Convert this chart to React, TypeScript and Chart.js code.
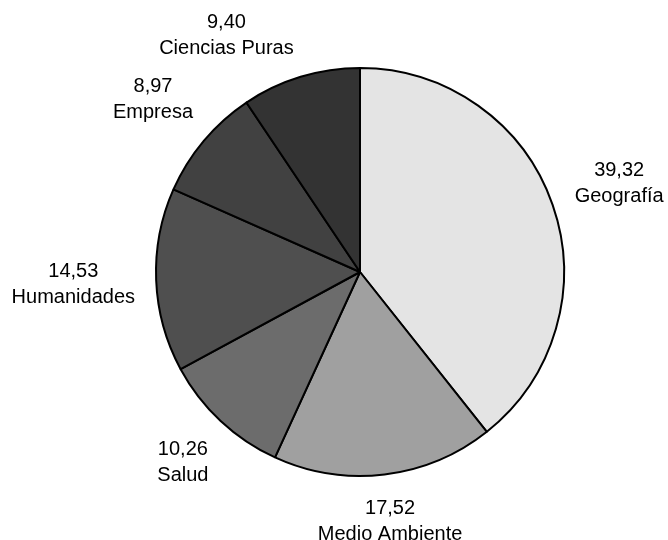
import React, { useEffect, useRef } from "react";
import { Chart, registerables } from "chart.js";

Chart.register(...registerables);

const categories = ["Geografía", "Medio Ambiente", "Salud", "Humanidades", "Empresa", "Ciencias Puras"];
const values = [39.32, 17.52, 10.26, 14.53, 8.97, 9.4];
const valueLabels = ["39,32", "17,52", "10,26", "14,53", "8,97", "9,40"];
const colors = ["#e4e4e4", "#a0a0a0", "#6c6c6c", "#4f4f4f", "#414141", "#333333"];

const FONT = '20px "Liberation Sans", Arial, sans-serif';
const LABEL_GAP = 20;
const TOP_MIN = 11;
const BOX_H = 46;

function boxDist(px: number, py: number, cx: number, cy: number, w: number, h: number) {
  const nx = Math.max(cx - w / 2, Math.min(px, cx + w / 2));
  const ny = Math.max(cy - h / 2, Math.min(py, cy + h / 2));
  return Math.hypot(nx - px, ny - py);
}

const labelPlugin = {
  id: "outsideLabels",
  afterDatasetsDraw(chart: any) {
    const ctx = chart.ctx as CanvasRenderingContext2D;
    const meta = chart.getDatasetMeta(0);
    ctx.save();
    ctx.font = FONT;
    ctx.fillStyle = "#000";
    ctx.textAlign = "center";
    ctx.textBaseline = "alphabetic";
    meta.data.forEach((arc: any, i: number) => {
      const { x, y, startAngle, endAngle, outerRadius } = arc.getProps(
        ["x", "y", "startAngle", "endAngle", "outerRadius"],
        true
      );
      const mid = (startAngle + endAngle) / 2;
      const dx = Math.cos(mid);
      const dy = Math.sin(mid);
      const l1 = valueLabels[i];
      const l2 = categories[i];
      const w = Math.max(ctx.measureText(l1).width, ctx.measureText(l2).width);
      const h = BOX_H;
      const target = outerRadius + 1 + LABEL_GAP;
      // move along mid-angle until nearest box point reaches target distance
      let lo = 0;
      let hi = 1000;
      for (let k = 0; k < 40; k++) {
        const t = (lo + hi) / 2;
        if (boxDist(x, y, x + dx * t, y + dy * t, w, h) < target) lo = t;
        else hi = t;
      }
      let cx = x + dx * lo;
      let cy = y + dy * lo;
      if (cy - h / 2 < TOP_MIN) {
        cy = TOP_MIN + h / 2;
        const sgn = dx < 0 ? -1 : 1;
        let a = 0;
        let b = 1000;
        for (let k = 0; k < 40; k++) {
          const s = (a + b) / 2;
          if (boxDist(x, y, x + sgn * s, cy, w, h) < target) a = s;
          else b = s;
        }
        cx = x + sgn * a;
      }
      ctx.fillText(l1, cx, cy - 6);
      ctx.fillText(l2, cx, cy + 20);
    });
    ctx.restore();
  },
};

export default function App() {
  const ref = useRef<HTMLCanvasElement | null>(null);
  useEffect(() => {
    document.body.style.margin = "0";
    const canvas = ref.current;
    if (!canvas) return;
    const chart = new Chart(canvas, {
      type: "pie",
      data: {
        labels: categories,
        datasets: [
          {
            data: values,
            backgroundColor: colors,
            borderColor: "#000000",
            borderWidth: 2,
          },
        ],
      },
      options: {
        responsive: false,
        animation: false,
        devicePixelRatio: 1,
        layout: { padding: { left: 155, right: 103, top: 67, bottom: 63 } },
        plugins: {
          legend: { display: false },
          tooltip: { enabled: false },
        },
      },
      plugins: [labelPlugin],
    });
    return () => chart.destroy();
  }, []);
  return (
    <div style={{ width: 668, height: 540, background: "#fff" }}>
      <canvas ref={ref} width={668} height={540} style={{ display: "block" }} />
    </div>
  );
}
